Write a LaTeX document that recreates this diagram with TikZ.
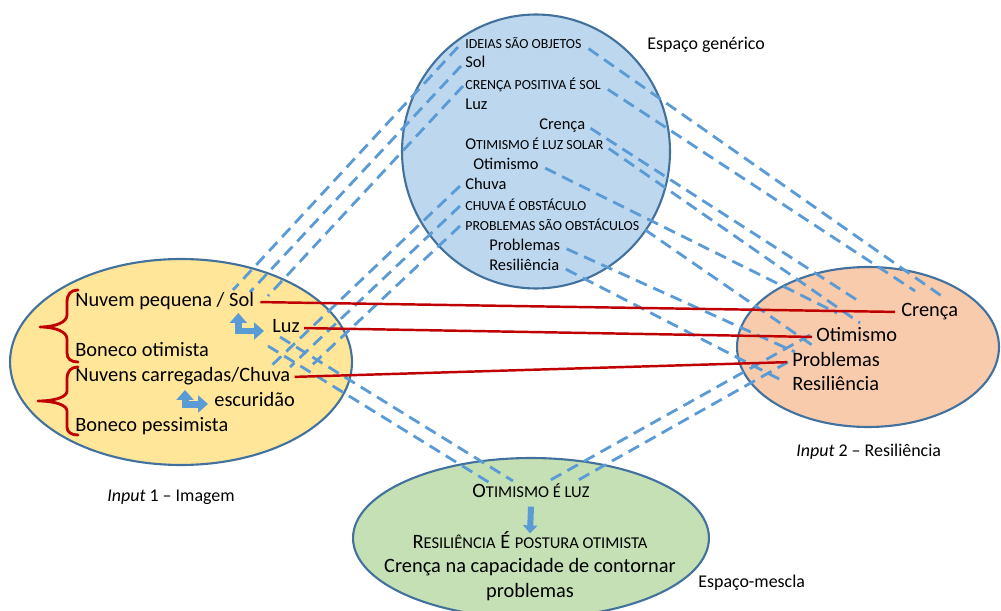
\documentclass[tikz,border=0pt]{standalone}
\usepackage{fontspec}
\setmainfont{Carlito}
\usetikzlibrary{arrows.meta,shapes.geometric}

\definecolor{spaceline}{HTML}{41719C}
\definecolor{mapblue}{HTML}{5B9BD5}
\definecolor{linkred}{HTML}{C00000}
\definecolor{genfill}{HTML}{BDD7EE}
\definecolor{imgfill}{HTML}{FFE699}
\definecolor{resfill}{HTML}{F8CBAD}
\definecolor{mixfill}{HTML}{C5E0B4}

\newcommand\fsbig{\fontsize{11.6pt}{13pt}\selectfont}
\newcommand\fsmid{\fontsize{9.35pt}{11pt}\selectfont}
\newcommand\fslbl{\fontsize{10.2pt}{12pt}\selectfont}
\newcommand\scmid[1]{{\fontsize{7.9pt}{9pt}\selectfont #1}}
\newcommand\scbig[1]{{\fontsize{9.4pt}{11pt}\selectfont #1}}

\pgfdeclarelayer{back}
\pgfdeclarelayer{mid}
\pgfsetlayers{back,mid,main}

\tikzset{
  space/.style={ellipse, draw=spaceline, line width=1.2pt, inner sep=0pt},
  word/.style={inner sep=0pt, text height=0.7em, text depth=0.24em, anchor=west},
  bigword/.style={word, font=\fsbig},
  midword/.style={word, font=\fsmid},
  caption/.style={word, font=\fslbl},
  map/.style={draw=mapblue, line width=1.6pt, dash pattern=on 0.24cm off 0.14cm},
  link/.style={draw=linkred, line width=1.4pt, shorten <=0.12cm, shorten >=0.12cm},
  elbow/.style={draw=mapblue, line width=0.14cm, line join=miter,
    {Triangle[width=0.34cm,length=0.2cm]}-{Triangle[width=0.34cm,length=0.2cm]}},
  downarrow/.style={draw=mapblue, line width=0.12cm, -{Triangle[width=0.28cm,length=0.16cm]}},
  brace/.style={draw=linkred, line width=1.6pt, line cap=round, line join=round},
}

\begin{document}
\begin{tikzpicture}[x=0.02cm, y=-0.02cm]
\useasboundingbox (0,0) rectangle (1001,611);

\begin{pgfonlayer}{back}
  \fill[white] (0,0) rectangle (1001,611);
  \node[space, fill=genfill, minimum width=5.36cm, minimum height=5.48cm] (gen) at (536,151.5) {};
  \node[space, fill=imgfill, minimum width=6.84cm, minimum height=4.12cm] (img) at (181,362) {};
  \node[space, fill=resfill, minimum width=5.24cm, minimum height=3.2cm] (res) at (868,347) {};
  \node[space, fill=mixfill, minimum width=7.12cm, minimum height=3.2cm] (mix) at (531,538) {};
\end{pgfonlayer}

% generic space
\node[midword] (g1) at (465,44) {\scmid{IDEIAS SÃO OBJETOS}};
\node[midword] (g2) at (465,63) {Sol};
\node[midword] (g3) at (465,85) {\scmid{CRENÇA POSITIVA É SOL}};
\node[midword] (g4) at (465,105) {Luz};
\node[midword] (g5) at (539,125) {Crença};
\node[midword] (g6) at (465,145) {O\scmid{TIMISMO É LUZ SOLAR}};
\node[midword] (g7) at (473,165) {Otimismo};
\node[midword] (g8) at (465,185) {Chuva};
\node[midword] (g9) at (465,206) {\scmid{CHUVA É OBSTÁCULO}};
\node[midword] (g10) at (465,226) {\scmid{PROBLEMAS SÃO OBSTÁCULOS}};
\node[midword] (g11) at (489,246) {Problemas};
\node[midword] (g12) at (489,266) {Resiliência};

% input 1
\node[bigword] (n1) at (75,302) {Nuvem pequena / Sol};
\node[bigword] (luz1) at (272,328) {Luz};
\node[bigword] (n2) at (75,352) {Boneco otimista};
\node[bigword] (n3) at (75,377) {Nuvens carregadas/Chuva};
\node[bigword] (esc) at (214,402) {escuridão};
\node[bigword] (n4) at (75,427) {Boneco pessimista};

% input 2
\node[bigword] (cr2) at (901,312) {Crença};
\node[bigword] (ot2) at (816,337) {Otimismo};
\node[bigword] (pr2) at (792,362) {Problemas};
\node[bigword] (re2) at (792,386) {Resiliência};

% blend
\node[bigword, anchor=center] (b1) at (531,493) {O\scbig{TIMISMO É LUZ}};
\node[bigword, anchor=center] (b2) at (530,544) {R\scbig{ESILIÊNCIA} É \scbig{POSTURA OTIMISTA}};
\node[bigword, anchor=center] (b3) at (530,568) {Crença na capacidade de contornar};
\node[bigword, anchor=center] (b4) at (530,593) {problemas};

% captions
\node[caption] (capgen) at (647,45) {Espaço genérico};
\node[caption] (capimg) at (107,497) {\textit{Input} 1 – Imagem};
\node[caption] (capres) at (796,452) {\textit{Input} 2 – Resiliência};
\node[caption] (capmix) at (698,583) {Espaço-mescla};

% free ends of the mapping lines
\coordinate (s1) at (233,290);
\coordinate (s2) at (250,292);
\coordinate (s3) at (268,296);
\coordinate (t1) at (270,367);
\coordinate (t2) at (290,367);
\coordinate (t3) at (310,367);
\coordinate (e1) at (943,297);
\coordinate (e2) at (915,291);
\coordinate (e3) at (857,300);
\coordinate (e4) at (860,323);
\coordinate (e5) at (837,313);
\coordinate (e6) at (812,345);
\coordinate (e7) at (795,352);
\coordinate (e8) at (783,381);
\coordinate (m1) at (513,481);
\coordinate (m2) at (490,483);
\coordinate (m3) at (547,482);
\coordinate (m4) at (573,483);

\begin{pgfonlayer}{mid}
  % generic space -> input 1
  \draw[map] ([shift={(-7,3)}]g1.west) -- (s1);
  \draw[map] ([shift={(-4,3)}]g2.west) -- (s2);
  \draw[map] ([shift={(-2,1)}]g3.west) -- (s3);
  \draw[map] ([shift={(-5,1)}]g8.west) -- (t1);
  \draw[map] ([shift={(-5,0)}]g9.west) -- (t2);
  \draw[map] ([shift={(-5,0)}]g10.west) -- (t3);
  % generic space -> input 2
  \draw[map, shorten <=0.16cm] (g1.east) -- (e1);
  \draw[map, shorten <=0.16cm] (g3.east) -- (e2);
  \draw[map, shorten <=0.12cm] (g5.east) -- (e3);
  \draw[map, shorten <=0.12cm] (g6.east) -- (e4);
  \draw[map, shorten <=0.14cm] (g7.east) -- (e5);
  \draw[map, shorten <=0.14cm] (g10.east) -- (e6);
  \draw[map, shorten <=0.14cm] (g11.east) -- (e7);
  \draw[map, shorten <=0.14cm] (g12.east) -- (e8);
  % inputs -> blend
  \draw[map] ([shift={(8,9)}]luz1.west) -- (m1);
  \draw[map] ([shift={(-4,18)}]luz1.west) -- (m2);
  \draw[map] ([shift={(-6,-2)}]ot2.west) -- (m3);
  \draw[map] ([shift={(-4,0)}]pr2.west) -- (m4);
  % cross-space links
  \draw[link] (n1.east) -- (cr2.west);
  \draw[link, shorten <=0.08cm, shorten >=0.08cm] (luz1.east) -- (ot2.west);
  \draw[link, shorten <=0.08cm, shorten >=0.1cm] (n3.east) -- (pr2.west);
\end{pgfonlayer}

% elbow arrows inside input 1
\draw[elbow] ([shift={(-16,11)}]n1.east) |- ([shift={(-8,3)}]luz1.west);
\draw[elbow] ([shift={(110,13)}]n3.west) |- ([shift={(-6,2)}]esc.west);
% arrow inside the blend
\draw[downarrow] ([shift={(0,5)}]b1.south) -- ([shift={(0,-2)}]b2.north);

% braces grouping the input 1 items
\draw[brace] (78,290) .. controls (71,290) and (67,294) .. (67,302) -- (67,315)
  .. controls (67,322) and (56,327) .. (40,327)
  .. controls (56,327) and (67,332) .. (67,339) -- (67,353)
  .. controls (67,359) and (71,362) .. (78,362);
\draw[brace] (78,367) .. controls (71,367) and (67,371) .. (67,379) -- (67,391)
  .. controls (67,397) and (55,401) .. (38,401)
  .. controls (55,401) and (67,405) .. (67,411) -- (67,427)
  .. controls (67,432) and (71,435) .. (78,435);

\end{tikzpicture}
\end{document}
